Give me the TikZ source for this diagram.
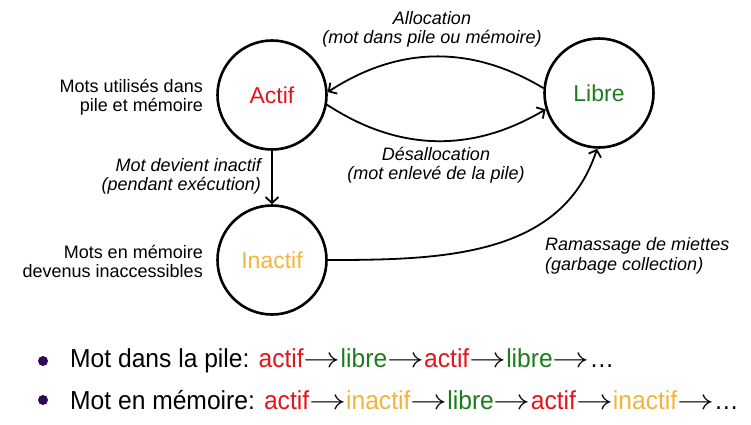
\RequirePackage{fix-cm}
\documentclass[tikz,border=0pt]{standalone}
\usepackage{fontspec}
\setmainfont{Liberation Sans}
\usepackage{xcolor}
\usepackage{graphicx}
\usepackage{tikz}
\usetikzlibrary{arrows.meta}

\definecolor{rouge}{HTML}{E2141E}
\definecolor{vert}{HTML}{1C7C1C}
\definecolor{jaune}{HTML}{F2B43C}
\definecolor{violet}{HTML}{2E0A5A}
\newcommand{\vers}{\scalebox{1.5}[1.1]{$\rightarrow$}}

\begin{document}
\begin{tikzpicture}[x=1pt,y=1pt,
	etat/.style={circle, draw, line width=2.6pt, minimum size=109pt, inner sep=0pt, font=\fontsize{23}{26}\selectfont},
	fleche/.style={line width=1.8pt, -{Straight Barb[length=6pt,width=13pt]}},
	note/.style={inner sep=0pt, font=\fontsize{18}{19.5}\selectfont},
	rond/.style={circle, fill=violet, inner sep=0pt, minimum size=10pt},
	ligne/.style={anchor=west, inner sep=0pt, font=\fontsize{26}{30}\selectfont}]
			\path[use as bounding box] (0,0) rectangle (751,424);
			\node[etat] at (272,329) (actif){\textcolor{rouge}{Actif}};
			\node[etat] at (599,331) (libre){\textcolor{vert}{Libre}};
			\node[etat] at (272,164) (inactif){\textcolor{jaune}{Inactif}};
			\draw[fleche] (libre.175) to[bend right=32] (actif.3);
			\draw[fleche] (actif.-10) to[bend right=32] (libre.197);
			\draw[fleche] (actif.south) -- (inactif.north);
			\draw[fleche] (inactif.east) to[out=0, in=-108] (libre.-92);
			% etiquettes
			\node[note, align=center] at (432,394.5) (alloc){\itshape Allocation\\\itshape (mot dans pile ou mémoire)};
			\node[note, align=center] at (436,259) (desalloc){\itshape Désallocation\\\itshape (mot enlevé de la pile)};
			\node[note, align=right, anchor=east] at (261,247.5) (devient){\itshape Mot devient inactif\\\itshape (pendant exécution)};
			\node[note, align=right, anchor=east] at (203,327) (utilises){Mots utilisés dans\\pile et mémoire};
			\node[note, align=right, anchor=east] at (203,162.5) (inaccess){Mots en mémoire\\devenus inaccessibles};
			\node[note, align=left, anchor=west] at (545,168) (ramassage){\itshape Ramassage de miettes\\\itshape (garbage collection)};
			% puces
			\node[rond] at (43,63) (p1){};
			\node[rond] at (43,24) (p2){};
			\node[ligne] at (70,63) (pile){\scalebox{0.947}[1]{Mot dans la pile: \textcolor{rouge}{actif}\vers\textcolor{vert}{libre}\vers\textcolor{rouge}{actif}\vers\textcolor{vert}{libre}\vers…}};
			\node[ligne] at (70,24) (memoire){\scalebox{0.947}[1]{Mot en mémoire: \textcolor{rouge}{actif}\vers\textcolor{jaune}{inactif}\vers\textcolor{vert}{libre}\vers\textcolor{rouge}{actif}\vers\textcolor{jaune}{inactif}\vers…}};
		\end{tikzpicture}
\end{document}
